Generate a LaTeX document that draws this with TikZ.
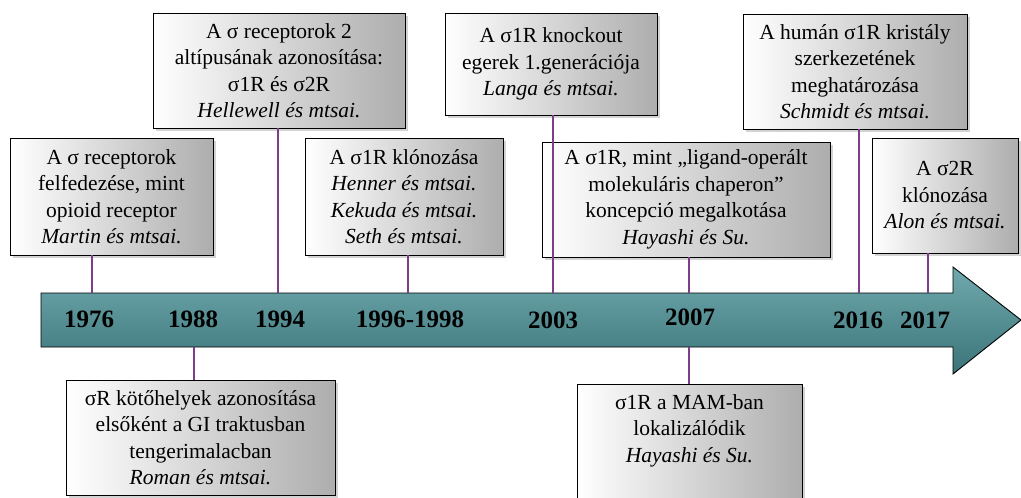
\documentclass[tikz,border=0pt]{standalone}
\usepackage{fontspec}
\setmainfont{Liberation Serif}
\usetikzlibrary{shadows}

\definecolor{stemcol}{RGB}{125,60,140}
\definecolor{tealtop}{RGB}{112,170,175}
\definecolor{tealbot}{RGB}{58,115,120}

\tikzset{
  evbox/.style={draw=black, line width=0.9pt, rectangle, align=center, inner sep=0pt,
    left color=white, right color=black!32,
    drop shadow={shadow xshift=2.5pt, shadow yshift=-2.5pt, opacity=0.35},
    font=\fontsize{21.5}{26.5}\selectfont},
  stem/.style={draw=stemcol, line width=1.6pt},
  yearlbl/.style={font=\fontsize{25}{25}\selectfont\bfseries, inner sep=0pt}
}

\begin{document}
\begin{tikzpicture}[x=1pt,y=-1pt]
\useasboundingbox (0,0) rectangle (1021,498);

% timeline arrow
\draw[line width=0.9pt, top color=tealtop, bottom color=tealbot]
  (41,293) -- (953,293) -- (953,267) -- (1021,320) -- (953,374) -- (953,347) -- (41,347) -- cycle;

% years
\node[yearlbl] (t1976) at (89,319) {1976};
\node[yearlbl] (t1988) at (193,319) {1988};
\node[yearlbl] (t1994) at (280,319) {1994};
\node[yearlbl] (t1996) at (410,319) {1996-1998};
\node[yearlbl] (t2003) at (553,320) {2003};
\node[yearlbl] (t2007) at (690,317) {2007};
\node[yearlbl] (t2016) at (858,320) {2016};
\node[yearlbl] (t2017) at (925,320) {2017};

% points on the arrow
\coordinate (p1976) at (92,293);
\coordinate (p1988) at (194,347);
\coordinate (p1994) at (278,293);
\coordinate (p1996) at (408,293);
\coordinate (p2003) at (553,293);
\coordinate (p2007) at (689,293);
\coordinate (p2007b) at (689,347);
\coordinate (p2016) at (859,293);
\coordinate (p2017) at (928,293);

% events
\node[evbox, minimum width=203, minimum height=117] (b1) at (111.5,196.5)
  {A σ receptorok\\felfedezése, mint\\opioid receptor\\\textit{Martin és mtsai.}};
\node[evbox, minimum width=252, minimum height=115] (b2) at (279,70.5)
  {A σ receptorok 2\\altípusának azonosítása:\\σ1R és σ2R\\\textit{Hellewell és mtsai.}};
\node[evbox, minimum width=198, minimum height=117] (b3) at (404,196.5)
  {A σ1R klónozása\\\textit{Henner és mtsai.}\\\textit{Kekuda és mtsai.}\\\textit{Seth és mtsai.}};
\node[evbox, minimum width=212, minimum height=102] (b4) at (551,64)
  {A σ1R knockout\\egerek 1.generációja\\\textit{Langa és mtsai.}};
\node[evbox, minimum width=288, minimum height=115] (b5) at (686,199.5)
  {A σ1R, mint „ligand-operált\\molekuláris chaperon”\\koncepció megalkotása\\\textit{Hayashi és Su.}};
\node[evbox, minimum width=224, minimum height=115] (b6) at (855,71.5)
  {A humán σ1R kristály\\szerkezetének\\meghatározása\\\textit{Schmidt és mtsai.}};
\node[evbox, minimum width=146, minimum height=115] (b7) at (945,195.5)
  {A σ2R\\klónozása\\\textit{Alon és mtsai.}};
\node[evbox, minimum width=269, minimum height=115] (b8) at (200.5,437.5)
  {σR kötőhelyek azonosítása\\elsőként a GI traktusban\\tengerimalacban\\\textit{Roman és mtsai.}};
\node[evbox, minimum width=225, minimum height=125] (b9) at (689.5,446.5)
  {σ1R a MAM-ban\\lokalizálódik\\\textit{Hayashi és Su.}\\[10pt]};

% connectors
\draw[stem] (b1.south -| p1976) -- (p1976);
\draw[stem] (b2.south -| p1994) -- (p1994);
\draw[stem] (b3.south -| p1996) -- (p1996);
\draw[stem] (b4.south -| p2003) -- (p2003);
\draw[stem] (b5.south -| p2007) -- (p2007);
\draw[stem] (b6.south -| p2016) -- (p2016);
\draw[stem] (b7.south -| p2017) -- (p2017);
\draw[stem] (p1988) -- (b8.north -| p1988);
\draw[stem] (p2007b) -- (b9.north -| p2007b);
\end{tikzpicture}
\end{document}
